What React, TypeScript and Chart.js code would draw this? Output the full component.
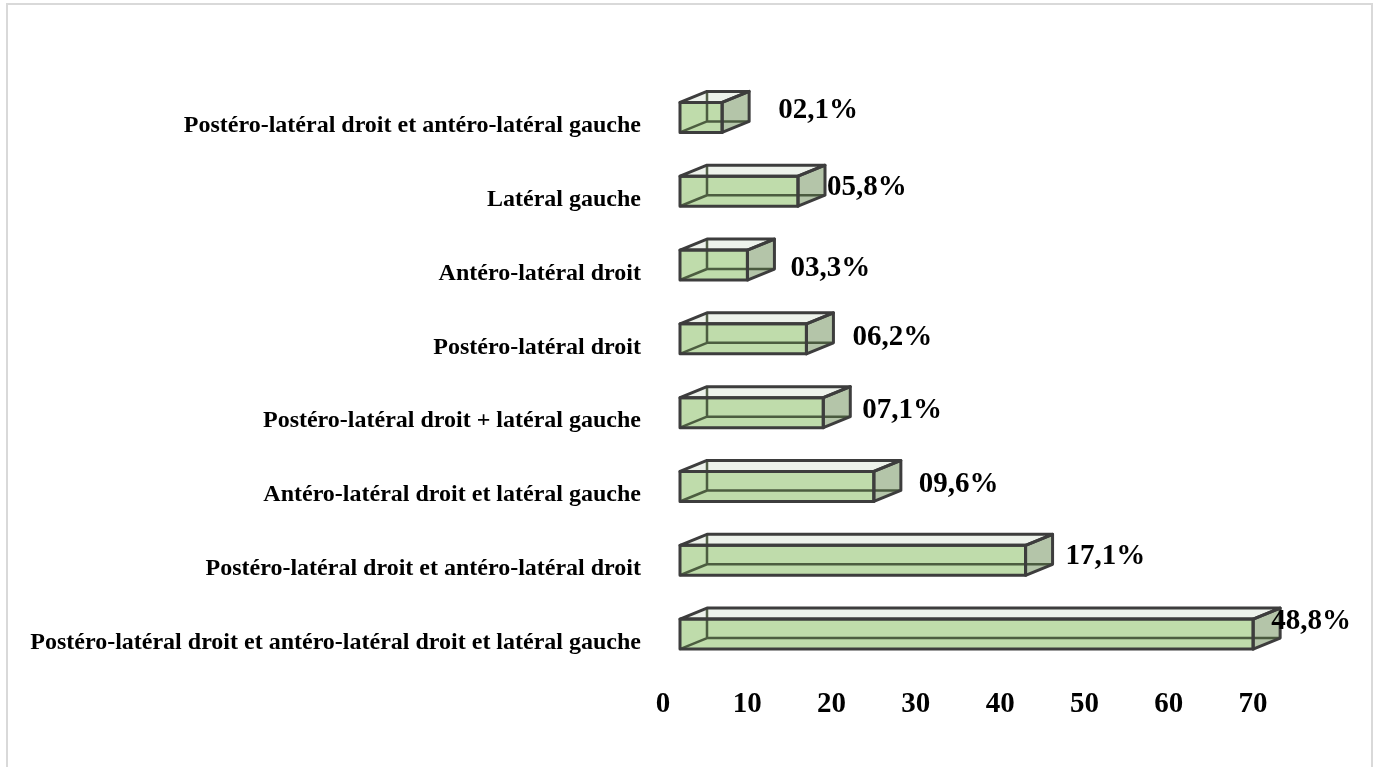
import { useEffect, useRef } from "react";
import { Chart, registerables } from "chart.js";

Chart.register(...registerables);

const categories = [
  "Postéro-latéral droit et antéro-latéral gauche",
  "Latéral gauche",
  "Antéro-latéral droit",
  "Postéro-latéral droit",
  "Postéro-latéral droit + latéral gauche",
  "Antéro-latéral droit et latéral gauche",
  "Postéro-latéral droit et antéro-latéral droit",
  "Postéro-latéral droit et antéro-latéral droit et latéral gauche",
];
const barValues = [5, 14, 8, 15, 17, 23, 41, 68];
const percentLabels = ["02,1%", "05,8%", "03,3%", "06,2%", "07,1%", "09,6%", "17,1%", "48,8%"];
const xTickValues = [0, 10, 20, 30, 40, 50, 60, 70];

// label nudges (style only)
const LABEL_NUDGE_X = [14, -13, 1, 4, -3, 3, -2, -24];
const LABEL_NUDGE_Y = [-7, -4, 3, -1, -2, -2, -4, -13];

const FONT = "'Liberation Serif', 'Times New Roman', serif";
const DEPTH_X = 27;
const DEPTH_Y = 11;
const SHIFT_X = 17;
const SHIFT_Y = -8.5;

const COL_FRONT = "#bfdcab";
const COL_TOP = "#edf2eb";
const COL_SIDE = "#b4c5a9";
const COL_EDGE = "#3d3d3d";
const COL_HIDDEN = "rgba(55,70,45,0.85)";

const bar3d = {
  id: "bar3d",
  afterDatasetsDraw(chart: any) {
    const ctx: CanvasRenderingContext2D = chart.ctx;
    const meta = chart.getDatasetMeta(0);
    ctx.save();
    ctx.translate(SHIFT_X, SHIFT_Y);
    ctx.lineJoin = "round";
    meta.data.forEach((el: any, i: number) => {
      const { x, y, base, height } = el.getProps(["x", "y", "base", "height"], true);
      const x0 = base;
      const x1 = x;
      const top = y - height / 2;
      const bot = y + height / 2;
      const dx = DEPTH_X;
      const dy = DEPTH_Y;

      const topPath = () => {
        ctx.beginPath();
        ctx.moveTo(x0, top);
        ctx.lineTo(x0 + dx, top - dy);
        ctx.lineTo(x1 + dx, top - dy);
        ctx.lineTo(x1, top);
        ctx.closePath();
      };
      const sidePath = () => {
        ctx.beginPath();
        ctx.moveTo(x1, top);
        ctx.lineTo(x1 + dx, top - dy);
        ctx.lineTo(x1 + dx, bot - dy);
        ctx.lineTo(x1, bot);
        ctx.closePath();
      };

      // fills
      ctx.fillStyle = COL_FRONT;
      ctx.fillRect(x0, top, x1 - x0, bot - top);
      topPath();
      ctx.fillStyle = COL_TOP;
      ctx.fill();
      sidePath();
      ctx.fillStyle = COL_SIDE;
      ctx.fill();

      // hidden edges
      ctx.strokeStyle = COL_HIDDEN;
      ctx.lineWidth = 2.5;
      ctx.beginPath();
      ctx.moveTo(x0 + dx, top - dy);
      ctx.lineTo(x0 + dx, bot - dy);
      ctx.lineTo(x1 + dx, bot - dy);
      ctx.moveTo(x0, bot);
      ctx.lineTo(x0 + dx, bot - dy);
      ctx.stroke();

      // outlines
      ctx.strokeStyle = COL_EDGE;
      ctx.lineWidth = 3;
      topPath();
      ctx.stroke();
      sidePath();
      ctx.stroke();
      ctx.strokeRect(x0, top, x1 - x0, bot - top);

      // value labels
      ctx.fillStyle = "#000";
      ctx.font = `bold 29px ${FONT}`;
      ctx.textAlign = "left";
      ctx.textBaseline = "middle";
      ctx.fillText(percentLabels[i], x1 + dx + 15 + LABEL_NUDGE_X[i], y + LABEL_NUDGE_Y[i]);
    });
    ctx.restore();
  },
};

export default function App() {
  const ref = useRef<HTMLCanvasElement | null>(null);
  useEffect(() => {
    if (!ref.current) return;
    const chart = new Chart(ref.current, {
      type: "bar",
      data: {
        labels: categories,
        datasets: [
          {
            data: barValues,
            backgroundColor: "rgba(0,0,0,0)",
            borderWidth: 0,
            barThickness: 30,
          },
        ],
      },
      options: {
        indexAxis: "y",
        animation: false,
        responsive: false,
        events: [],
        layout: { padding: { top: 89, right: 120, left: 0, bottom: 0 } },
        plugins: { legend: { display: false }, tooltip: { enabled: false } },
        scales: {
          x: {
            min: 0,
            max: 70,
            afterBuildTicks: (s: any) => {
              s.ticks = xTickValues.map((v) => ({ value: v }));
            },
            grid: { display: false, drawTicks: false },
            border: { display: false },
            ticks: {
              padding: 8,
              color: "#000",
              font: { family: FONT, size: 29, weight: "bold" },
            },
            afterFit: (s: any) => {
              s.height = 87.5;
            },
          },
          y: {
            grid: { display: false, drawTicks: false },
            border: { display: false },
            ticks: {
              padding: 22,
              color: "#000",
              autoSkip: false,
              font: { family: FONT, size: 24, weight: "bold" },
            },
            afterFit: (s: any) => {
              s.width = 663;
            },
          },
        },
      },
      plugins: [bar3d],
    } as any);
    return () => chart.destroy();
  }, []);

  return (
    <div style={{ position: "fixed", left: 0, top: 0, width: 1373, height: 767, background: "#fff" }}>
      <canvas ref={ref} width={1373} height={767} style={{ display: "block", position: "absolute", left: 0, top: 0 }} />
      <div
        style={{
          position: "absolute",
          left: 6,
          top: 3,
          width: 1367,
          height: 800,
          boxSizing: "border-box",
          border: "2px solid #d9d9d9",
          pointerEvents: "none",
        }}
      />
    </div>
  );
}
